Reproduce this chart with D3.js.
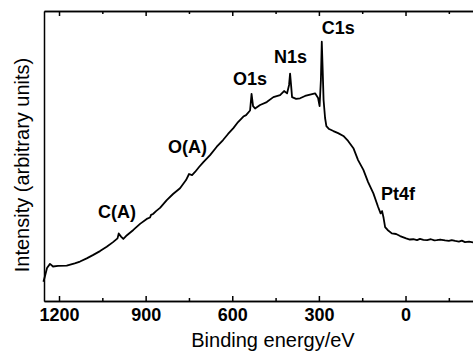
<!DOCTYPE html>
<html>
<head>
<meta charset="utf-8">
<script src="https://cdn.jsdelivr.net/npm/d3@7"></script>
<style>
  body { margin: 0; background: #fff; }
  svg { display: block; font-family: "Liberation Sans", Arial, sans-serif; }
  .axis path, .axis line { stroke: #000; stroke-width: 1.5; }
  .axis text { font-size: 18px; font-weight: bold; fill: #000; }
  .peak { font-size: 18px; font-weight: bold; fill: #000; }
  .title { font-size: 20px; fill: #000; }
</style>
</head>
<body>
<div id="chart"></div>
<script>
/////////////////////
// Data
/////////////////////

var energy = [1254, 1248.5, 1241.6, 1231.2, 1220.8, 1203.5, 1173.3, 1145.6, 1127.3, 1104,
              1081.2, 1058, 1034.8, 1012.9, 997.4, 993.2, 985.2, 977.3, 967.9, 942.6,
              919.4, 896.2, 884.8, 881.3, 874.4, 864, 850.1, 826.9, 805.1, 780.9,
              760.1, 749.7, 739.3, 728.9, 715, 700.1, 676.9, 653.7, 631.9, 614.6,
              596.2, 579.9, 561.6, 552.2, 538.4, 533.2, 528, 521.1, 503.7, 480.5,
              457.7, 434.5, 420.6, 410.2, 403.3, 399.8, 396.4, 392.9, 379, 365.2,
              347.9, 330.5, 313.2, 302.8, 297.6, 293.1, 290, 286.9, 283.8, 278.6,
              274.1, 264.7, 249.8, 233.5, 215.2, 198.9, 180.5, 164.3, 145.9, 129.6,
              111.3, 94.9, 86.3, 81.1, 75.9, 70.7, 62.1, 47.5, 32.6, 18.8,
              -2, -15, -27, -40, -50, -62, -75, -88, -100, -108,
              -120, -137, -150, -160, -172, -185, -195, -206, -220, -234,
              -245, -258];

var intensity = [6.6, 8.6, 11.4, 12.8, 11.9, 12.1, 12.2, 13.0, 13.6, 14.7,
                 15.9, 17.2, 18.7, 20.3, 21.6, 23.3, 22.2, 21.4, 22.4, 24.5,
                 26.6, 28.3, 28.8, 29.7, 30.0, 31.0, 32.1, 34.8, 36.9, 38.9,
                 41.7, 43.8, 43.4, 44.5, 46.2, 47.9, 50.3, 53.2, 55.5, 57.6,
                 59.6, 61.7, 63.6, 64.1, 65.7, 71.4, 67.2, 66.4, 67.6, 68.6,
                 70.3, 71.0, 72.4, 71.6, 74.5, 78.4, 74.5, 70.3, 69.7, 69.9,
                 70.7, 71.2, 71.6, 70.0, 67.2, 76.2, 89.4, 79.7, 69.3, 63.1,
                 60.3, 59.3, 58.6, 57.9, 56.9, 55.2, 52.7, 48.6, 45.2, 41.0,
                 37.1, 32.4, 30.2, 31.0, 28.6, 25.5, 24.5, 23.3, 23.1, 22.4,
                 21.6, 21.2, 21.3, 21.0, 21.4, 21.1, 21.0, 21.3, 20.9, 21.0,
                 21.2, 20.9, 20.7, 21.0, 20.7, 20.5, 20.8, 20.3, 20.5, 20.2,
                 20.4, 20.2];

var majorTicks = [1200, 900, 600, 300, 0];
var minorTicks = [1050, 750, 450, 150, -150];

var peakLabels = ["C1s", "N1s", "O1s", "O(A)", "C(A)", "Pt4f"];
var peakLabelEnergy = [290.2, 455.4, 597.4, 822.5, 1064.9, 84.8];
var peakLabelIntensity = [92.1, 82.1, 74.5, 51.2, 28.7, 34.8];

/////////////////////
// Scales
/////////////////////

var width = 473, height = 352;

var x = d3.scaleLinear()
    .domain([1252, -260])
    .range([44, 480.6]);

var y = d3.scaleLinear()
    .domain([0, 100])
    .range([301, 11]);

var svg = d3.select("#chart").append("svg")
    .attr("width", width)
    .attr("height", height);

// Axes (ticks point inward)

svg.append("g")
    .attr("class", "axis")
    .attr("transform", "translate(0," + y(0) + ")")
    .call(d3.axisBottom(x).tickValues(majorTicks).tickSizeInner(-5).tickSizeOuter(0).tickPadding(7)
        .tickFormat(d3.format("d")));

svg.append("g")
    .attr("class", "axis")
    .attr("transform", "translate(0," + y(0) + ")")
    .call(d3.axisBottom(x).tickValues(minorTicks).tickSizeInner(-3).tickSizeOuter(0).tickFormat(""));

svg.append("g")
    .attr("class", "axis")
    .attr("transform", "translate(0," + y(100) + ")")
    .call(d3.axisTop(x).tickValues(majorTicks).tickSizeInner(-5).tickSizeOuter(0).tickFormat(""));

svg.append("g")
    .attr("class", "axis")
    .attr("transform", "translate(0," + y(100) + ")")
    .call(d3.axisTop(x).tickValues(minorTicks).tickSizeInner(-3).tickSizeOuter(0).tickFormat(""));

svg.append("g")
    .attr("class", "axis")
    .attr("transform", "translate(" + x(1252) + ",0)")
    .call(d3.axisLeft(y).tickValues([]).tickSizeOuter(0));

// Spectrum

var points = energy.map(function(e, i) { return [e, intensity[i]]; });

var line = d3.line()
    .x(function(d) { return x(d[0]); })
    .y(function(d) { return y(d[1]); });

svg.append("path")
    .datum(points)
    .attr("d", line)
    .attr("fill", "none")
    .attr("stroke", "#000")
    .attr("stroke-width", 1.8)
    .attr("stroke-linejoin", "round");

// Peak labels

svg.selectAll(".peak")
    .data(peakLabels)
  .enter().append("text")
    .attr("class", "peak")
    .attr("x", function(d, i) { return x(peakLabelEnergy[i]); })
    .attr("y", function(d, i) { return y(peakLabelIntensity[i]); })
    .text(function(d) { return d; });

// Axis titles

svg.append("text")
    .attr("class", "title")
    .attr("x", 273)
    .attr("y", 347)
    .attr("text-anchor", "middle")
    .text("Binding energy/eV");

svg.append("text")
    .attr("class", "title")
    .attr("transform", "translate(28.5,165) rotate(-90)")
    .attr("text-anchor", "middle")
    .text("Intensity (arbitrary units)");
</script>
</body>
</html>
